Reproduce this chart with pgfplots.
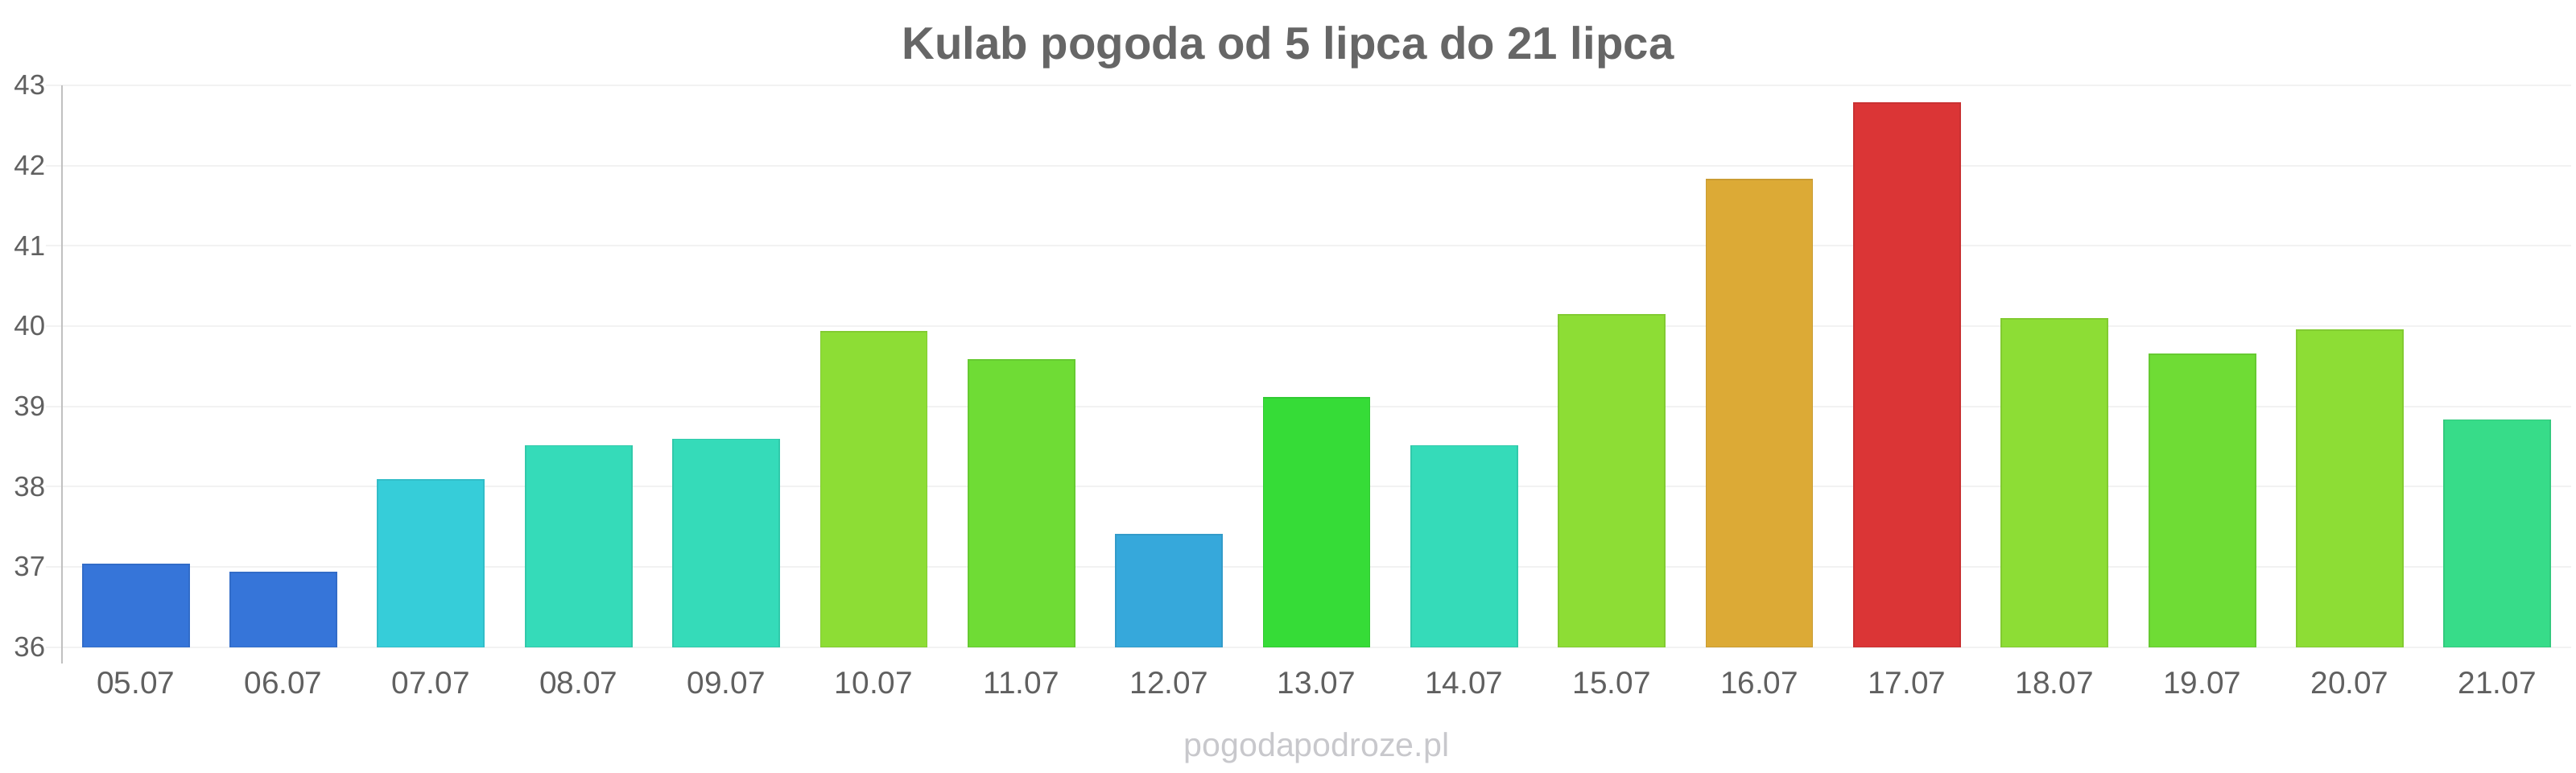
\documentclass[border=0pt]{standalone}
\usepackage{pgfplots}
\pgfplotsset{compat=1.18}
\usepackage{fontspec}
\setmainfont{Liberation Sans}
\definecolor{cblue}{HTML}{3675D9}
\definecolor{ccyan}{HTML}{36CDD9}
\definecolor{cturq}{HTML}{35DBB9}
\definecolor{cyg}{HTML}{8DDD35}
\definecolor{clg}{HTML}{6FDC35}
\definecolor{csky}{HTML}{36A8DB}
\definecolor{cgreen}{HTML}{36DC37}
\definecolor{corange}{HTML}{DCAA36}
\definecolor{cred}{HTML}{DB3536}
\definecolor{cmint}{HTML}{37DC89}
\definecolor{gridc}{HTML}{F2F2F2}
\definecolor{axisc}{HTML}{C0C0C0}
\definecolor{tickc}{HTML}{606060}
\definecolor{titlec}{HTML}{666666}
\definecolor{wmc}{HTML}{C8C8CC}
\begin{document}
\begin{tikzpicture}
\useasboundingbox (-19.25pt,-39.1pt) rectangle (780.75pt,200.9pt);
\begin{axis}[
  name=ax,
  at={(0,0)}, anchor=south west,
  scale only axis, width=779.25pt, height=174.4pt,
  xmin=-0.5, xmax=16.5, ymin=36, ymax=43,
  ytick={36,37,...,43}, xtick={0,1,...,16},
  xticklabels={05.07,06.07,07.07,08.07,09.07,10.07,11.07,12.07,13.07,14.07,15.07,16.07,17.07,18.07,19.07,20.07,21.07},
  every axis plot/.append style={ybar, bar width=33pt, bar shift=0pt, line width=0.45pt},
  axis line style={draw=none},
  major tick length=0pt,
  ymajorgrids, grid style={draw=gridc, line width=0.5pt},
  tick label style={text=tickc},
  xticklabel style={font=\fontsize{9.7}{11}\selectfont, anchor=north, inner sep=0pt, yshift=-7.5pt},
  yticklabel style={font=\fontsize{8.7}{10}\selectfont, anchor=east, inner sep=0pt, xshift=-5pt},
  /pgf/number format/assume math mode=true,
]
\addplot[fill=cblue, draw=cblue!92!black] coordinates {(0,37.03)};
\addplot[fill=cblue, draw=cblue!92!black] coordinates {(1,36.93)};
\addplot[fill=ccyan, draw=ccyan!92!black] coordinates {(2,38.08)};
\addplot[fill=cturq, draw=cturq!92!black] coordinates {(3,38.51)};
\addplot[fill=cturq, draw=cturq!92!black] coordinates {(4,38.59)};
\addplot[fill=cyg, draw=cyg!92!black] coordinates {(5,39.93)};
\addplot[fill=clg, draw=clg!92!black] coordinates {(6,39.58)};
\addplot[fill=csky, draw=csky!92!black] coordinates {(7,37.40)};
\addplot[fill=cgreen, draw=cgreen!92!black] coordinates {(8,39.11)};
\addplot[fill=cturq, draw=cturq!92!black] coordinates {(9,38.51)};
\addplot[fill=cyg, draw=cyg!92!black] coordinates {(10,40.14)};
\addplot[fill=corange, draw=corange!92!black] coordinates {(11,41.83)};
\addplot[fill=cred, draw=cred!92!black] coordinates {(12,42.78)};
\addplot[fill=cyg, draw=cyg!92!black] coordinates {(13,40.09)};
\addplot[fill=clg, draw=clg!92!black] coordinates {(14,39.65)};
\addplot[fill=cyg, draw=cyg!92!black] coordinates {(15,39.95)};
\addplot[fill=cmint, draw=cmint!92!black] coordinates {(16,38.83)};
\end{axis}
\foreach \i in {0,...,7} {
  \draw[gridc, line width=0.5pt] (-5pt,{\i*174.4pt/7}) -- (0pt,{\i*174.4pt/7});
}
\draw[axisc, line width=0.45pt] (ax.north west) -- ([yshift=-5pt]ax.south west);
\node[anchor=base, font=\bfseries\fontsize{14.1}{16}\selectfont, text=titlec] at (380.75pt,182.6pt) {Kulab pogoda od 5 lipca do 21 lipca};
\node[anchor=base, font=\fontsize{10.3}{12}\selectfont, text=wmc] at (389.6pt,-34.1pt) {pogodapodroze.pl};
\end{tikzpicture}
\end{document}
